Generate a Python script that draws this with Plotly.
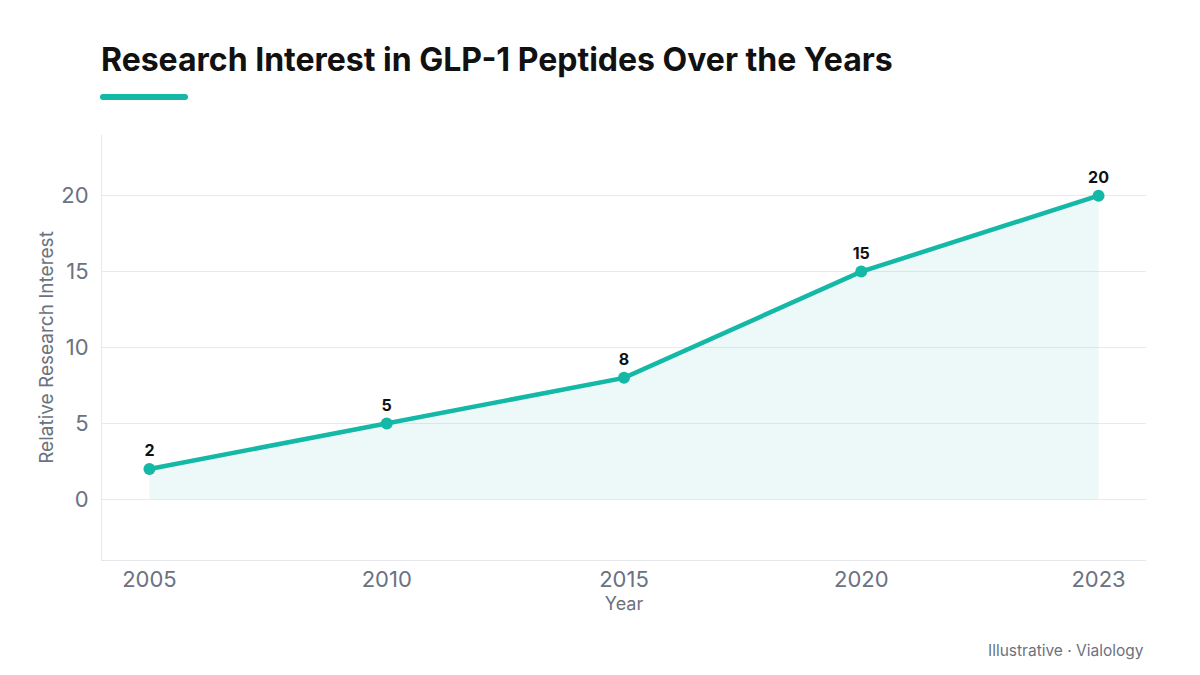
import plotly.graph_objects as go

years = ["2005", "2010", "2015", "2020", "2023"]
interest = [2, 5, 8, 15, 20]
labels = ["2", "5", "8", "15", "20"]

TEAL = "#14B8A6"
FONT = "Inter"

# plot area in pixels: x 102..1146, y 135..560
PL, PR, PT, PB = 102, 1146, 135, 560
PW, PH = PR - PL, PB - PT


def px(x):
    return (x - PL) / PW


def py(y):
    return (PB - y) / PH


fig = go.Figure()
fig.add_trace(go.Scatter(
    x=years, y=interest, mode="lines", fill="tozeroy",
    fillcolor="rgba(20,184,166,0.08)",
    line=dict(color="rgba(20,184,166,0.12)", width=1),
    hoverinfo="skip", showlegend=False,
))
fig.add_trace(go.Scatter(
    x=years, y=interest, mode="lines+markers+text",
    line=dict(color=TEAL, width=4.5),
    marker=dict(color=TEAL, size=12),
    text=labels, textposition="top center",
    textfont=dict(family=FONT, size=16, color="#111111", weight="bold"),
    showlegend=False,
))

bar_y = 97
fig.update_layout(
    width=1200, height=675,
    paper_bgcolor="white", plot_bgcolor="white",
    margin=dict(l=PL, r=1200 - PR, t=PT, b=675 - PB),
    font=dict(family=FONT, color="#6b7280"),
    title=dict(
        text="<b>Research Interest in GLP-1 Peptides Over the Years</b>",
        x=101 / 1200, xanchor="left", xref="container", y=1 - 60 / 675, yanchor="middle",
        yref="container",
        font=dict(family=FONT, size=32, color="#111111"),
    ),
    xaxis=dict(
        type="category", range=[-0.2, 4.2],
        showgrid=False, showline=True, linecolor="#e5e7eb", linewidth=1,
        ticks="", tickfont=dict(size=22, color="#6b7280"),
        title=dict(text="Year", font=dict(size=18, color="#6b7280"), standoff=5),
        zeroline=False, fixedrange=True,
    ),
    yaxis=dict(
        range=[-4, 24], tickvals=[0, 5, 10, 15, 20],
        showgrid=True, gridcolor="#e8ebee", gridwidth=1,
        showline=True, linecolor="#e5e7eb", linewidth=1,
        zeroline=False, ticks="", ticklabelstandoff=8,
        tickfont=dict(size=22, color="#6b7280"),
        title=dict(text="Relative Research Interest", font=dict(size=19, color="#6b7280"), standoff=2),
    ),
    shapes=[
        dict(type="line", xref="paper", yref="paper",
             x0=px(103), x1=px(185), y0=py(bar_y), y1=py(bar_y),
             line=dict(color=TEAL, width=6)),
        dict(type="circle", xref="paper", yref="paper",
             x0=px(100), x1=px(106), y0=py(bar_y + 3), y1=py(bar_y - 3),
             fillcolor=TEAL, line=dict(width=0)),
        dict(type="circle", xref="paper", yref="paper",
             x0=px(182), x1=px(188), y0=py(bar_y + 3), y1=py(bar_y - 3),
             fillcolor=TEAL, line=dict(width=0)),
    ],
    annotations=[dict(
        text="Illustrative · Vialology", xref="paper", yref="paper",
        x=1, y=py(650), xanchor="right", yanchor="middle",
        showarrow=False, font=dict(family=FONT, size=15.5, color="#6b7280"),
    )],
)

fig.write_html("out.html")
